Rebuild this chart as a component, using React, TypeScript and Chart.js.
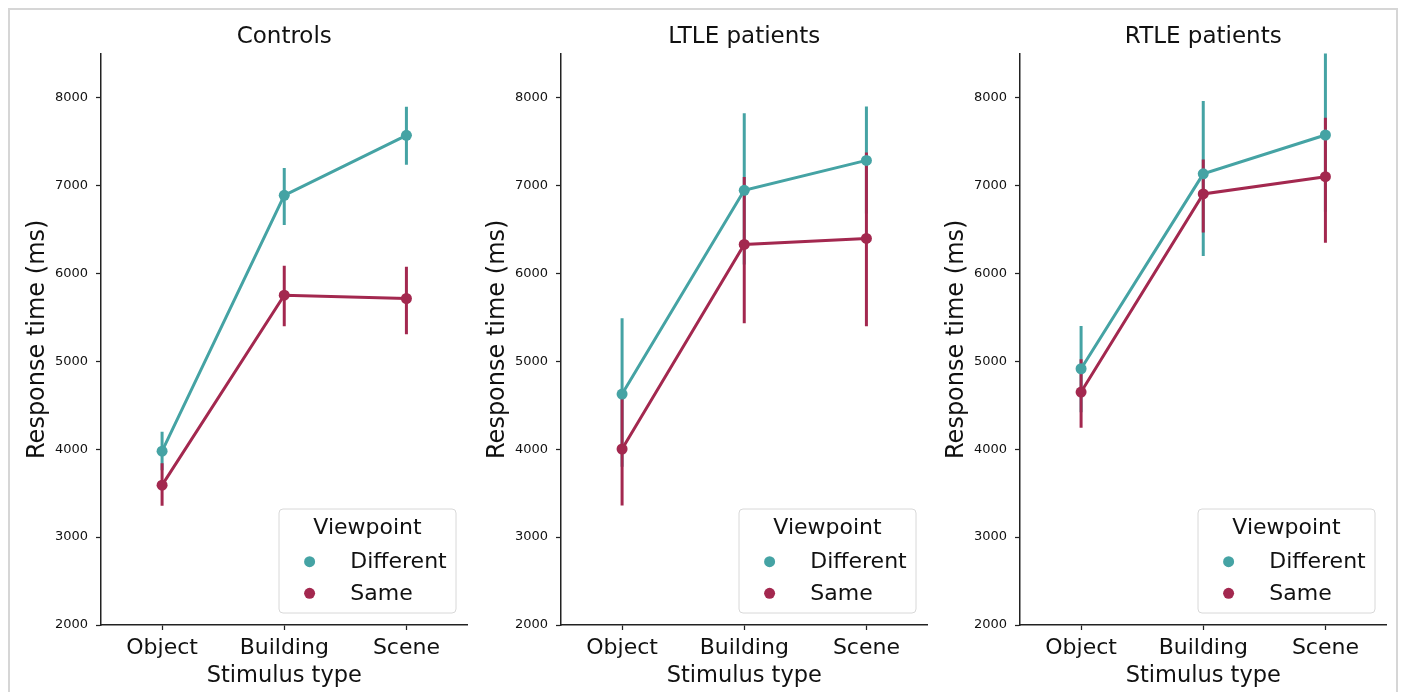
import React, { useEffect, useRef } from 'react';
import { Chart, registerables } from 'chart.js';

Chart.register(...registerables);

const categories = ['Object', 'Building', 'Scene'];
const panelTitles = ['Controls', 'LTLE patients', 'RTLE patients'];
const seriesNames = ['Different', 'Same'];
const legendTitle = 'Viewpoint';
const xTitle = 'Stimulus type';
const yTitle = 'Response time (ms)';
const yTicks = [2000, 3000, 4000, 5000, 6000, 7000, 8000];
const yMin = 2000;
const yMax = 8500;

// Controls
const controlsDifferent = [3977, 6888, 7570];
const controlsDifferentLow = [3760, 6550, 7236];
const controlsDifferentHigh = [4197, 7200, 7895];
const controlsSame = [3591, 5752, 5714];
const controlsSameLow = [3356, 5399, 5308];
const controlsSameHigh = [3840, 6086, 6076];

// LTLE patients
const ltleDifferent = [4627, 6945, 7285];
const ltleDifferentLow = [3800, 6100, 6680];
const ltleDifferentHigh = [5490, 7822, 7899];
const ltleSame = [4002, 6329, 6398];
const ltleSameLow = [3360, 5433, 5398];
const ltleSameHigh = [4620, 7097, 7374];

// RTLE patients
const rtleDifferent = [4915, 7132, 7574];
const rtleDifferentLow = [4420, 6197, 6700];
const rtleDifferentHigh = [5402, 7960, 8600];
const rtleSame = [4650, 6904, 7100];
const rtleSameLow = [4243, 6466, 6349];
const rtleSameHigh = [5022, 7296, 7770];

const TEAL = '#45a3a4';
const CRIMSON = '#a3284f';
const TEXT = '#111111';
const AXIS = '#222222';
const FONT = '"DejaVu Sans", sans-serif';

const errorBarPlugin = {
  id: 'errorBars',
  beforeDatasetsDraw(chart: any) {
    const { ctx, chartArea } = chart;
    const y = chart.scales.y;
    ctx.save();
    ctx.beginPath();
    ctx.rect(chartArea.left, chartArea.top, chartArea.right - chartArea.left, chartArea.bottom - chartArea.top);
    ctx.clip();
    chart.data.datasets.forEach((ds: any, i: number) => {
      const meta = chart.getDatasetMeta(i);
      ctx.strokeStyle = ds.borderColor;
      ctx.lineWidth = 3;
      ctx.lineCap = 'butt';
      meta.data.forEach((el: any, j: number) => {
        ctx.beginPath();
        ctx.moveTo(el.x, y.getPixelForValue(ds.low[j]));
        ctx.lineTo(el.x, y.getPixelForValue(ds.high[j]));
        ctx.stroke();
      });
    });
    ctx.restore();
  },
};

const boxLegendPlugin = {
  id: 'boxLegend',
  afterDatasetsDraw(chart: any) {
    const { ctx, chartArea } = chart;
    const w = 177;
    const h = 104;
    const right = chartArea.right - 11.5;
    const bottom = chartArea.bottom - 12;
    const left = right - w;
    const top = bottom - h;
    ctx.save();
    ctx.beginPath();
    const r = 4;
    ctx.moveTo(left + r, top);
    ctx.lineTo(right - r, top);
    ctx.arcTo(right, top, right, top + r, r);
    ctx.lineTo(right, bottom - r);
    ctx.arcTo(right, bottom, right - r, bottom, r);
    ctx.lineTo(left + r, bottom);
    ctx.arcTo(left, bottom, left, bottom - r, r);
    ctx.lineTo(left, top + r);
    ctx.arcTo(left, top, left + r, top, r);
    ctx.closePath();
    ctx.fillStyle = 'rgba(255,255,255,0.85)';
    ctx.fill();
    ctx.strokeStyle = '#d8d8d8';
    ctx.lineWidth = 1;
    ctx.stroke();

    ctx.font = '22px ' + FONT;
    ctx.fillStyle = TEXT;
    ctx.textAlign = 'center';
    ctx.textBaseline = 'middle';
    ctx.fillText(legendTitle, left + w / 2, top + 19);

    chart.data.datasets.forEach((ds: any, i: number) => {
      const cy = top + 52.7 + i * 31.6;
      ctx.beginPath();
      ctx.arc(left + 30.6, cy, 5.5, 0, Math.PI * 2);
      ctx.fillStyle = ds.borderColor;
      ctx.fill();
      ctx.fillStyle = TEXT;
      ctx.textAlign = 'left';
      ctx.fillText(ds.label, left + 71.3, cy + 1);
    });
    ctx.restore();
  },
};

type PanelProps = {
  title: string;
  diff: number[];
  diffLow: number[];
  diffHigh: number[];
  same: number[];
  sameLow: number[];
  sameHigh: number[];
  left: number;
};

const CANVAS_W = 465;

function Panel({ title, diff, diffLow, diffHigh, same, sameLow, sameHigh, left }: PanelProps) {
  const ref = useRef<HTMLCanvasElement | null>(null);

  useEffect(() => {
    if (!ref.current) return;
    const gridCfg = {
      display: true,
      drawOnChartArea: false,
      drawTicks: true,
      tickLength: 5,
      tickColor: AXIS,
      tickWidth: 1.25,
      offset: false,
    };
    const chart = new Chart(ref.current, {
      type: 'line',
      data: {
        labels: categories,
        datasets: [
          {
            label: seriesNames[0],
            data: diff,
            low: diffLow,
            high: diffHigh,
            borderColor: TEAL,
            backgroundColor: TEAL,
            pointBackgroundColor: TEAL,
            borderWidth: 3,
            pointRadius: 5.5,
            pointBorderWidth: 0,
            tension: 0,
            fill: false,
          } as any,
          {
            label: seriesNames[1],
            data: same,
            low: sameLow,
            high: sameHigh,
            borderColor: CRIMSON,
            backgroundColor: CRIMSON,
            pointBackgroundColor: CRIMSON,
            borderWidth: 3,
            pointRadius: 5.5,
            pointBorderWidth: 0,
            tension: 0,
            fill: false,
          } as any,
        ],
      },
      options: {
        responsive: false,
        animation: false,
        events: [],
        layout: { padding: { left: 0, right: 1.5, top: 0, bottom: 0 } },
        font: { family: FONT } as any,
        plugins: {
          legend: { display: false },
          tooltip: { enabled: false },
          title: {
            display: true,
            fullSize: false,
            text: title,
            color: TEXT,
            font: { family: FONT, size: 23, weight: 'normal' as any },
            padding: { top: 15, bottom: 3 },
          },
        },
        scales: {
          x: {
            type: 'category',
            offset: true,
            grid: gridCfg as any,
            border: { display: true, color: AXIS, width: 1.5 },
            ticks: {
              color: TEXT,
              font: { family: FONT, size: 22 },
              padding: 5,
              maxRotation: 0,
              autoSkip: false,
            },
            title: {
              display: true,
              text: xTitle,
              color: TEXT,
              font: { family: FONT, size: 22.5 },
              padding: { top: 0, bottom: 2 },
            },
            afterFit: (s: any) => {
              s.height = 67;
            },
          },
          y: {
            type: 'linear',
            min: yMin,
            max: yMax,
            afterBuildTicks: (s: any) => {
              s.ticks = yTicks.map((v) => ({ value: v }));
            },
            grid: gridCfg as any,
            border: { display: true, color: AXIS, width: 1.5 },
            ticks: {
              color: TEXT,
              font: { family: FONT, size: 13 },
              padding: 8,
              callback: (v: any) => String(v),
            },
            title: {
              display: true,
              text: yTitle,
              color: TEXT,
              font: { family: FONT, size: 24 },
              padding: { top: 15, bottom: 0 },
            },
            afterFit: (s: any) => {
              s.width = 93;
            },
          },
        },
      },
      plugins: [errorBarPlugin, boxLegendPlugin],
    });
    return () => chart.destroy();
  }, []);

  return (
    <canvas
      ref={ref}
      width={CANVAS_W}
      height={684}
      style={{ position: 'absolute', left, top: 0, width: CANVAS_W, height: 684 }}
    />
  );
}

export default function App() {
  return (
    <div style={{ position: 'relative', width: 1390, height: 684, overflow: 'hidden', background: '#fff' }}>
      <div
        style={{
          position: 'absolute',
          left: 0,
          top: 0,
          width: 1390,
          height: 720,
          boxSizing: 'border-box',
          border: '2px solid #d6d6d6',
        }}
      />
      <Panel
        title={panelTitles[0]}
        diff={controlsDifferent}
        diffLow={controlsDifferentLow}
        diffHigh={controlsDifferentHigh}
        same={controlsSame}
        sameLow={controlsSameLow}
        sameHigh={controlsSameHigh}
        left={0}
      />
      <Panel
        title={panelTitles[1]}
        diff={ltleDifferent}
        diffLow={ltleDifferentLow}
        diffHigh={ltleDifferentHigh}
        same={ltleSame}
        sameLow={ltleSameLow}
        sameHigh={ltleSameHigh}
        left={460}
      />
      <Panel
        title={panelTitles[2]}
        diff={rtleDifferent}
        diffLow={rtleDifferentLow}
        diffHigh={rtleDifferentHigh}
        same={rtleSame}
        sameLow={rtleSameLow}
        sameHigh={rtleSameHigh}
        left={919}
      />
    </div>
  );
}
